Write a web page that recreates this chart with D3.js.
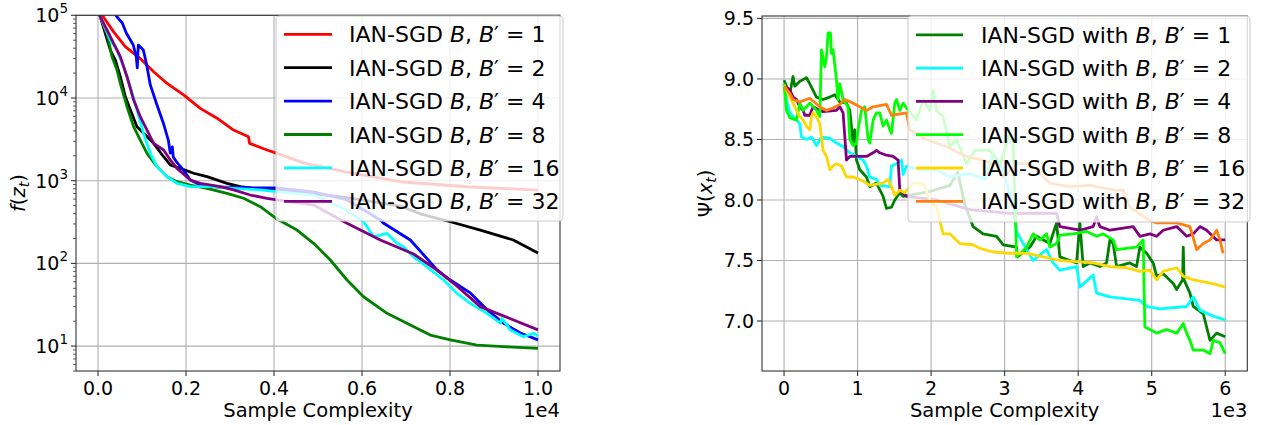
<!DOCTYPE html>
<html><head><meta charset="utf-8">
<script src="https://cdn.jsdelivr.net/npm/d3@7"></script>
<style>
body{margin:0;background:#fff}
svg{display:block}
text{font-family:"DejaVu Sans",sans-serif;fill:#000}
</style>
</head><body><svg id="c" width="1261" height="425"></svg>
<script>
// ---------------- DATA ----------------
const batchSizes = ["1", "2", "4", "8", "16", "32"];

// Left panel: f(z_t) vs sample complexity (log y)
const fX_B1 = [0, 120, 355, 620, 960, 1265, 1570, 1945, 2325, 2705, 3080, 3420, 3445, 3840, 4070, 4665, 5735, 6940, 8460, 10000];
const fY_B1 = [160000, 96000, 63000, 41700, 30000, 20800, 15000, 10900, 7500, 5700, 4100, 3400, 2830, 2350, 2140, 1640, 1240, 964, 839, 771];

const fX_B2 = [0, 52, 280, 393, 507, 620, 734, 886, 1036, 1264, 1491, 1643, 1870, 2173, 2477, 2932, 3234, 3536, 4600, 5736, 6870, 7325, 8007, 8689, 9439, 10000];
const fY_B2 = [130000, 96000, 38000, 28800, 18100, 10400, 7200, 4500, 3740, 2830, 1950, 1550, 1410, 1230, 1120, 930, 846, 809, 730, 617, 494, 398, 319, 253, 192, 134];

const fX_B4 = [0, 300, 416, 552, 643, 802, 870, 893, 916, 1030, 1098, 1189, 1325, 1484, 1598, 1643, 1689, 1711, 1802, 1939, 2098, 2325, 2711, 3530, 4052, 4893, 5666, 6416, 6484, 7098, 7711, 8007, 8461, 8848, 9211, 9598, 10000];
const fY_B4 = [500000, 150000, 98000, 80700, 61000, 43700, 31300, 23100, 43700, 38000, 26500, 14400, 8700, 4990, 3100, 2160, 2560, 1940, 1640, 1350, 1020, 888, 839, 817, 817, 731, 585, 335, 308, 192, 83, 63, 44, 27.4, 19, 14.4, 11.9];

const fX_B8 = [0, 52, 205, 318, 432, 507, 659, 809, 961, 1114, 1341, 1568, 1795, 2098, 2477, 2932, 3309, 3689, 4068, 4523, 4900, 5280, 5659, 6036, 6568, 7098, 7552, 8007, 8614, 9218, 10000];
const fY_B8 = [130000, 96000, 60500, 31600, 21800, 15000, 7850, 4500, 3100, 2140, 1480, 1120, 972, 887, 809, 704, 613, 485, 344, 253, 175, 110, 63, 39.5, 24.9, 18, 13.6, 11.9, 10.3, 9.84, 9.4];

const fX_B16 = [0, 52, 280, 432, 582, 734, 886, 1036, 1189, 1341, 1568, 1795, 2098, 2627, 3082, 3689, 4068, 4893, 5507, 6036, 6264, 6568, 6795, 6945, 7173, 7477, 7855, 8159, 8461, 8841, 9143, 9182, 9370, 9673, 9900, 10000];
const fY_B16 = [130000, 96000, 50200, 38000, 23900, 13700, 7200, 3740, 2140, 1480, 1120, 930, 846, 846, 809, 773, 737, 671, 485, 319, 210, 231, 175, 159, 120, 91, 63, 43.4, 32.9, 24.9, 18.9, 21.6, 15.7, 13, 14.3, 13.2];

const fX_B32 = [0, 52, 205, 355, 507, 659, 809, 961, 1114, 1264, 1491, 1643, 1795, 2098, 2325, 2780, 3082, 3461, 3841, 4068, 4900, 5659, 6416, 7173, 7705, 8082, 8689, 9068, 9445, 10000];
const fY_B32 = [130000, 96000, 66400, 45800, 31600, 18100, 9500, 5940, 4100, 2830, 2350, 1780, 1410, 1020, 930, 846, 773, 671, 613, 585, 508, 305, 192, 130, 83, 57.5, 30, 24.9, 20.7, 15.7];

// Right panel: Psi(x_t) vs sample complexity
const pX_B1 = [0, 33, 78, 122, 146, 214, 305, 350, 441, 531, 622, 690, 758, 849, 894, 939, 962, 985, 1030, 1121, 1166, 1257, 1347, 1393, 1461, 1506, 1574, 1619, 1800, 1982, 2254, 2363, 2458, 2571, 2707, 2890, 2980, 3162, 3170, 3343, 3434, 3615, 3706, 3751, 3887, 3978, 4023, 4068, 4159, 4295, 4386, 4431, 4476, 4522, 4703, 4794, 4839, 4931, 5020, 5067, 5156, 5293, 5339, 5420, 5429, 5440, 5520, 5565, 5701, 5793, 5883, 6000];
const pY_B1 = [8.99, 8.94, 8.88, 9.02, 8.94, 8.98, 9.01, 8.96, 8.85, 8.83, 8.85, 8.87, 8.81, 8.80, 8.74, 8.47, 8.58, 8.33, 8.25, 8.19, 8.11, 8.14, 8.03, 7.93, 7.94, 8.00, 8.06, 8.03, 8.05, 8.07, 8.12, 8.23, 7.96, 7.78, 7.72, 7.70, 7.63, 7.61, 7.53, 7.61, 7.70, 7.64, 7.81, 7.53, 7.50, 7.48, 7.81, 7.45, 7.48, 7.45, 7.48, 7.67, 7.64, 7.45, 7.48, 7.45, 7.61, 7.56, 7.48, 7.37, 7.39, 7.31, 7.26, 7.34, 7.61, 7.34, 7.23, 7.12, 7.06, 6.84, 6.90, 6.87];

const pX_B2 = [0, 33, 78, 122, 169, 214, 237, 305, 373, 441, 509, 622, 713, 803, 894, 985, 1075, 1121, 1166, 1257, 1302, 1438, 1461, 1529, 1597, 1619, 1665, 1846, 2073, 2254, 2527, 2731, 2844, 2980, 3116, 3162, 3298, 3388, 3570, 3660, 3751, 3978, 4023, 4204, 4250, 4431, 4839, 4931, 5112, 5475, 5565, 5656, 5837, 6000];
const pY_B2 = [8.96, 8.83, 8.72, 8.69, 8.66, 8.63, 8.52, 8.50, 8.52, 8.45, 8.52, 8.51, 8.47, 8.44, 8.39, 8.36, 8.33, 8.28, 8.19, 8.17, 8.12, 8.11, 8.28, 8.30, 8.33, 8.21, 8.28, 8.25, 8.25, 8.19, 8.22, 8.17, 8.39, 8.25, 7.94, 7.74, 7.59, 7.50, 7.59, 7.48, 7.42, 7.45, 7.28, 7.38, 7.23, 7.20, 7.17, 7.12, 7.10, 7.12, 7.20, 7.09, 7.04, 7.01];

const pX_B4 = [0, 78, 122, 169, 214, 259, 282, 350, 395, 486, 531, 713, 758, 803, 849, 894, 1121, 1211, 1257, 1302, 1393, 1483, 1551, 1574, 1619, 1665, 2073, 2527, 3071, 3706, 3751, 4023, 4204, 4250, 4295, 4431, 4748, 4839, 4976, 5067, 5156, 5339, 5475, 5565, 5656, 5747, 5883, 6000];
const pY_B4 = [8.94, 8.91, 8.85, 8.83, 8.77, 8.74, 8.70, 8.70, 8.77, 8.74, 8.73, 8.74, 8.77, 8.72, 8.33, 8.36, 8.36, 8.39, 8.41, 8.39, 8.37, 8.36, 8.33, 8.08, 8.06, 8.03, 8.00, 7.92, 7.89, 7.89, 7.78, 7.75, 7.78, 7.86, 7.78, 7.75, 7.78, 7.70, 7.72, 7.70, 7.75, 7.78, 7.70, 7.72, 7.78, 7.75, 7.67, 7.67];

const pX_B8 = [0, 33, 78, 169, 214, 259, 305, 350, 441, 486, 509, 554, 577, 599, 631, 645, 667, 713, 735, 758, 803, 871, 894, 939, 985, 1007, 1053, 1098, 1143, 1166, 1211, 1257, 1302, 1347, 1393, 1438, 1461, 1506, 1529, 1574, 1619, 1665, 1801, 1891, 1982, 2027, 2073, 2163, 2254, 2346, 2482, 2595, 2799, 2935, 3071, 3116, 3162, 3298, 3388, 3479, 3570, 3615, 3706, 3751, 3932, 4114, 4250, 4340, 4476, 4522, 4794, 4884, 4907, 4976, 5067, 5203, 5339, 5429, 5475, 5520, 5565, 5701, 5793, 5837, 5928, 6000];
const pY_B8 = [8.96, 8.74, 8.68, 8.66, 8.80, 8.74, 8.77, 8.80, 8.74, 8.69, 9.24, 9.10, 9.18, 9.38, 9.38, 9.21, 9.24, 8.99, 8.83, 8.96, 8.83, 8.77, 8.50, 8.45, 8.47, 8.58, 8.74, 8.77, 8.50, 8.47, 8.66, 8.72, 8.72, 8.61, 8.66, 8.58, 8.55, 8.80, 8.83, 8.74, 8.80, 8.76, 8.66, 8.83, 8.74, 8.91, 8.74, 8.69, 8.44, 8.50, 8.30, 8.41, 8.41, 8.29, 8.55, 8.50, 7.53, 7.61, 7.72, 7.67, 7.72, 7.61, 7.64, 7.71, 7.72, 7.74, 7.70, 7.72, 7.67, 7.59, 7.61, 7.67, 6.95, 6.93, 6.90, 6.93, 6.90, 6.98, 6.90, 6.84, 6.76, 6.76, 6.73, 6.84, 6.82, 6.73];

const pX_B16 = [0, 78, 122, 169, 214, 259, 305, 350, 373, 395, 441, 486, 531, 577, 622, 667, 713, 781, 849, 939, 1030, 1121, 1166, 1347, 1415, 1461, 1506, 1574, 1642, 1755, 1891, 1982, 2073, 2118, 2163, 2254, 2390, 2571, 2663, 2844, 3071, 3298, 3524, 3751, 3978, 4204, 4431, 4658, 4839, 4976, 5067, 5156, 5339, 5429, 5565, 5747, 5883, 6000];
const pY_B16 = [8.95, 8.85, 8.80, 8.74, 8.69, 8.66, 8.61, 8.58, 8.69, 8.72, 8.69, 8.63, 8.41, 8.36, 8.25, 8.28, 8.30, 8.28, 8.19, 8.19, 8.17, 8.14, 8.12, 8.14, 8.17, 8.11, 8.04, 8.08, 8.06, 8.14, 8.14, 8.00, 7.94, 7.83, 7.72, 7.72, 7.64, 7.63, 7.60, 7.57, 7.56, 7.56, 7.53, 7.50, 7.49, 7.48, 7.45, 7.44, 7.41, 7.42, 7.34, 7.41, 7.44, 7.37, 7.34, 7.32, 7.30, 7.28];

const pX_B32 = [0, 78, 122, 214, 350, 486, 577, 667, 758, 826, 939, 1121, 1211, 1393, 1461, 1665, 1710, 1937, 2210, 2482, 2707, 2890, 2980, 3162, 3343, 3615, 3887, 4159, 4522, 4612, 4703, 4976, 5067, 5339, 5520, 5611, 5701, 5793, 5883, 5928, 5970];
const pY_B32 = [8.94, 8.88, 8.83, 8.81, 8.84, 8.77, 8.74, 8.76, 8.79, 8.83, 8.80, 8.74, 8.77, 8.79, 8.70, 8.72, 8.58, 8.50, 8.44, 8.36, 8.33, 8.28, 8.19, 8.30, 8.30, 8.14, 8.11, 8.12, 8.08, 8.08, 7.94, 7.83, 7.81, 7.81, 7.78, 7.59, 7.64, 7.67, 7.75, 7.67, 7.56];

const leftTicksX = [0, 2000, 4000, 6000, 8000, 10000];
const leftTicksY = [1e1, 1e2, 1e3, 1e4, 1e5];
const rightTicksX = [0, 1000, 2000, 3000, 4000, 5000, 6000];
const rightTicksY = [7.0, 7.5, 8.0, 8.5, 9.0, 9.5];

// ---------------- DRAW ----------------
const svg = d3.select("#c");
const FONT_TICK = 19, FONT_LABEL = 19.5, FONT_LEG = 22;
const LW = 2.8;

function zip(xs, ys) { return xs.map((x, i) => [x, ys[i]]); }

function drawPanel(cfg) {
  const g = svg.append("g");
  const [x0, x1] = cfg.x.range();
  const [yb, yt] = cfg.y.range();
  const clipId = "clip" + cfg.id;
  svg.append("clipPath").attr("id", clipId).append("rect")
    .attr("x", x0).attr("y", yt).attr("width", x1 - x0).attr("height", yb - yt);

  // grid
  const grid = g.append("g").attr("stroke", "#b0b0b0").attr("stroke-width", 1.1);
  cfg.ticksX.forEach(t => grid.append("line")
    .attr("x1", cfg.x(t)).attr("x2", cfg.x(t)).attr("y1", yt).attr("y2", yb));
  cfg.ticksY.forEach(t => grid.append("line")
    .attr("x1", x0).attr("x2", x1).attr("y1", cfg.y(t)).attr("y2", cfg.y(t)));

  // lines
  const line = d3.line().x(d => cfg.x(d[0])).y(d => cfg.y(d[1]));
  const lg = g.append("g").attr("clip-path", `url(#${clipId})`);
  cfg.series.forEach(s => {
    lg.append("path").datum(zip(s.xs, s.ys))
      .attr("d", line).attr("fill", "none").attr("stroke", s.color)
      .attr("stroke-width", LW).attr("stroke-linejoin", "round").attr("stroke-linecap", "butt");
  });

  // spines
  g.append("rect").attr("x", x0).attr("y", yt).attr("width", x1 - x0).attr("height", yb - yt)
    .attr("fill", "none").attr("stroke", "#333").attr("stroke-width", 1.1);

  // x ticks
  const tk = g.append("g").attr("stroke", "#333").attr("stroke-width", 1.1);
  cfg.ticksX.forEach(t => {
    tk.append("line").attr("x1", cfg.x(t)).attr("x2", cfg.x(t)).attr("y1", yb).attr("y2", yb + 5);
    g.append("text").attr("x", cfg.x(t)).attr("y", yb + 24).attr("text-anchor", "middle")
      .attr("font-size", FONT_TICK).text(cfg.fmtX(t));
  });
  // y ticks
  cfg.ticksY.forEach(t => {
    tk.append("line").attr("x1", x0 - 5).attr("x2", x0).attr("y1", cfg.y(t)).attr("y2", cfg.y(t));
    cfg.labelY(g, x0 - 8, cfg.y(t), t);
  });
  if (cfg.minorY) {
    cfg.minorY.forEach(t => tk.append("line").attr("stroke-width", 0.8)
      .attr("x1", x0 - 3).attr("x2", x0).attr("y1", cfg.y(t)).attr("y2", cfg.y(t)));
  }
  // x label & offset
  g.append("text").attr("x", (x0 + x1) / 2).attr("y", 417).attr("text-anchor", "middle")
    .attr("font-size", FONT_LABEL).text("Sample Complexity");
  g.append("text").attr("x", x1).attr("y", 417).attr("text-anchor", "end")
    .attr("font-size", FONT_LABEL).text(cfg.offset);
  // y label
  const yl = g.append("text").attr("transform", `translate(${cfg.ylabX},${(yt + yb) / 2}) rotate(-90)`)
    .attr("text-anchor", "middle").attr("font-size", FONT_LABEL);
  cfg.ylab(yl);

  // legend
  const L = cfg.legend;
  const lgd = g.append("g");
  lgd.append("rect").attr("x", L.x).attr("y", L.y).attr("width", L.w).attr("height", L.h)
    .attr("rx", 4).attr("fill", "#fff").attr("fill-opacity", 0.8)
    .attr("stroke", "#cccccc").attr("stroke-width", 1.1);
  cfg.series.forEach((s, i) => {
    const cy = L.row0 + i * L.dy;
    lgd.append("line").attr("x1", L.hx0).attr("x2", L.hx1).attr("y1", cy).attr("y2", cy)
      .attr("stroke", s.color).attr("stroke-width", LW);
    const t = lgd.append("text").attr("x", L.tx).attr("y", cy + 8).attr("font-size", FONT_LEG);
    t.append("tspan").text(L.prefix);
    t.append("tspan").attr("font-style", "italic").text("B");
    t.append("tspan").text(", ");
    t.append("tspan").attr("font-style", "italic").text("B");
    t.append("tspan").text("\u2032 = " + s.label);
  });
}

const xL = d3.scaleLinear().domain([-500, 10500]).range([76, 560]);
const yL = d3.scaleLog().domain([5, 1e5]).range([371, 15.3]);
const xR = d3.scaleLinear().domain([-300, 6300]).range([762, 1247.3]);
const yR = d3.scaleLinear().domain([6.587, 9.52]).range([371, 16]);

const minorL = [];
for (let e = 0; e <= 4; e++) for (let m = 2; m <= 9; m++) {
  const v = m * Math.pow(10, e);
  if (v >= 5 && v <= 1e5) minorL.push(v);
}

const leftColors = ["#ff0000", "#000000", "#0000ff", "#008000", "#00ffff", "#800080"];
const rightColors = ["#008000", "#00ffff", "#800080", "#00ff00", "#ffd700", "#ff7f0e"];
const fXs = [fX_B1, fX_B2, fX_B4, fX_B8, fX_B16, fX_B32];
const fYs = [fY_B1, fY_B2, fY_B4, fY_B8, fY_B16, fY_B32];
const pXs = [pX_B1, pX_B2, pX_B4, pX_B8, pX_B16, pX_B32];
const pYs = [pY_B1, pY_B2, pY_B4, pY_B8, pY_B16, pY_B32];

drawPanel({
  id: "L", x: xL, y: yL, ticksX: leftTicksX, ticksY: leftTicksY, minorY: minorL,
  fmtX: t => (t / 1e4).toFixed(1), offset: "1e4",
  labelY: (g, x, y, t) => {
    const tx = g.append("text").attr("x", x).attr("y", y + 7).attr("text-anchor", "end").attr("font-size", FONT_TICK);
    tx.append("tspan").text("10");
    tx.append("tspan").attr("font-size", 13.5).attr("dy", -9).text(String(Math.round(Math.log10(t))));
  },
  ylabX: 25,
  ylab: t => {
    t.append("tspan").attr("font-style", "italic").text("f");
    t.append("tspan").text("(");
    t.append("tspan").attr("font-style", "italic").text("z");
    t.append("tspan").attr("font-style", "italic").attr("font-size", 14).attr("dy", 4).text("t");
    t.append("tspan").attr("dy", -4).text(")");
  },
  series: batchSizes.map((b, i) => ({ label: b, color: leftColors[i], xs: fXs[i], ys: fYs[i] })),
  legend: { x: 276, y: 16, w: 287, h: 205, row0: 34.3, dy: 33.4, hx0: 284, hx1: 332, tx: 349, prefix: "IAN-SGD " }
});

drawPanel({
  id: "R", x: xR, y: yR, ticksX: rightTicksX, ticksY: rightTicksY,
  fmtX: t => String(t / 1000), offset: "1e3",
  labelY: (g, x, y, t) => {
    g.append("text").attr("x", x).attr("y", y + 7).attr("text-anchor", "end").attr("font-size", FONT_TICK).text(t.toFixed(1));
  },
  ylabX: 712,
  ylab: t => {
    t.append("tspan").text("\u03A8(");
    t.append("tspan").attr("font-style", "italic").text("x");
    t.append("tspan").attr("font-style", "italic").attr("font-size", 14).attr("dy", 4).text("t");
    t.append("tspan").attr("dy", -4).text(")");
  },
  series: batchSizes.map((b, i) => ({ label: b, color: rightColors[i], xs: pXs[i], ys: pYs[i] })),
  legend: { x: 908, y: 16, w: 342, h: 206, row0: 34.8, dy: 33.3, hx0: 916, hx1: 963, tx: 981, prefix: "IAN-SGD with " }
});
</script>
</body></html>
